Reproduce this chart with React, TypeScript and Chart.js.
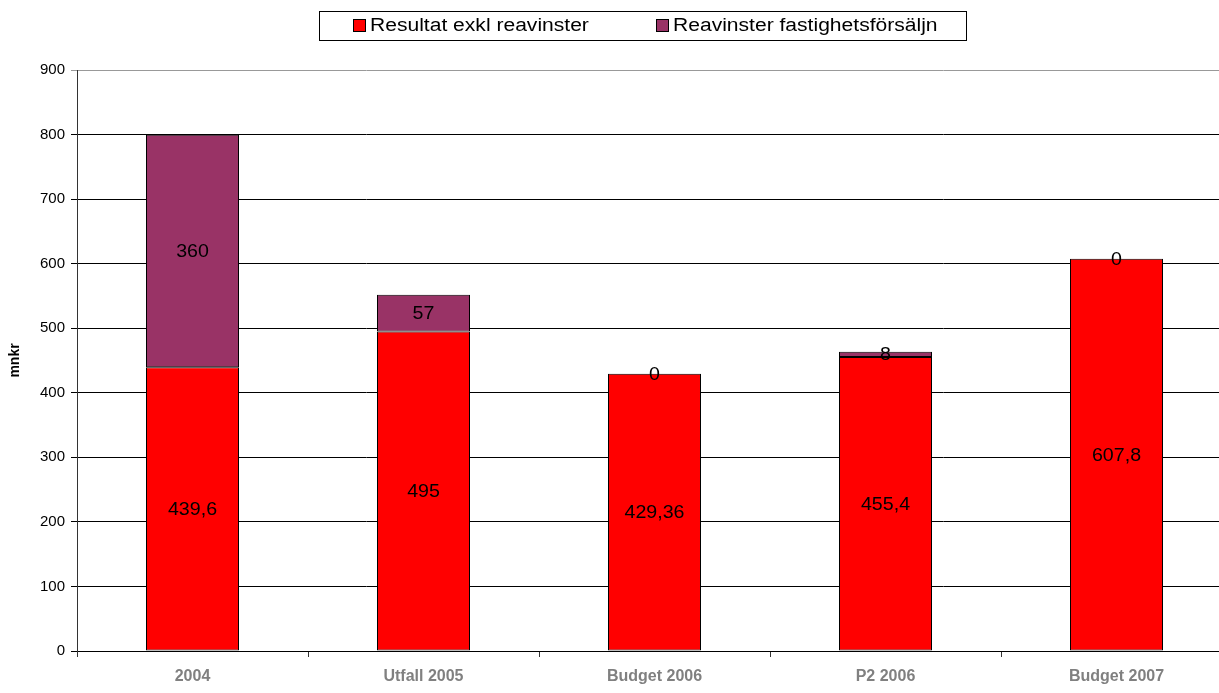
import React, { useEffect, useRef } from 'react';
import { Chart, registerables } from 'chart.js';

Chart.register(...registerables);

// ---- data ----
const categories = ['2004', 'Utfall 2005', 'Budget 2006', 'P2 2006', 'Budget 2007'];
const resultatExkl = [439.6, 495, 429.36, 455.4, 607.8];
const reavinster = [360, 57, 0, 8, 0];
const seriesNames = ['Resultat exkl reavinster', 'Reavinster fastighetsförsäljn'];
const seriesColors = ['#FF0000', '#993366'];
const yMin = 0;
const yMax = 900;
const yStep = 100;
const yAxisTitle = 'mnkr';

const FONT = '"Liberation Sans", Arial, sans-serif';

const fmt = (v: number) => String(v).replace('.', ',');

const legendPlugin = {
  id: 'boxLegend',
  afterDraw(chart: any) {
    const ctx = chart.ctx;
    ctx.save();
    ctx.strokeStyle = '#000';
    ctx.lineWidth = 1;
    ctx.fillStyle = '#fff';
    ctx.fillRect(319.5, 11.5, 647, 29);
    ctx.strokeRect(319.5, 11.5, 647, 29);
    const xs = [353, 656];
    ctx.font = `18px ${FONT}`;
    ctx.textBaseline = 'middle';
    ctx.textAlign = 'left';
    chart.data.datasets.forEach((ds: any, i: number) => {
      const x = xs[i];
      ctx.fillStyle = ds.backgroundColor;
      ctx.fillRect(x + 0.5, 19.5, 12, 12);
      ctx.strokeStyle = '#000';
      ctx.strokeRect(x + 0.5, 19.5, 12, 12);
      ctx.save();
      ctx.translate(x + 17, 26.5);
      ctx.scale(1.17, 1);
      ctx.fillStyle = '#000';
      ctx.fillText(ds.label, 0, 0);
      ctx.restore();
    });
    ctx.restore();
  },
};

const dataLabelPlugin = {
  id: 'dataLabels',
  afterDatasetsDraw(chart: any) {
    const ctx = chart.ctx;
    ctx.save();
    ctx.font = `18px ${FONT}`;
    ctx.textAlign = 'center';
    ctx.textBaseline = 'middle';
    ctx.fillStyle = '#000';
    chart.data.datasets.forEach((ds: any, di: number) => {
      const meta = chart.getDatasetMeta(di);
      meta.data.forEach((el: any, i: number) => {
        const v = ds.data[i];
        const { x, y, base } = el.getProps(['x', 'y', 'base'], true);
        const cy = (y + base) / 2;
        ctx.save();
        ctx.translate(x, cy + 1);
        ctx.scale(1.09, 1);
        ctx.fillText(fmt(v), 0, 0);
        ctx.restore();
      });
    });
    ctx.restore();
  },
};

export default function App() {
  const ref = useRef<HTMLCanvasElement | null>(null);

  useEffect(() => {
    if (!ref.current) return;
    const barOpts = {
      borderColor: '#000',
      borderWidth: 1,
      borderSkipped: false,
      barPercentage: 93 / 231,
      categoryPercentage: 1,
    };
    const chart = new Chart(ref.current, {
      type: 'bar',
      data: {
        labels: categories,
        datasets: [
          { label: seriesNames[0], data: resultatExkl, backgroundColor: seriesColors[0], ...barOpts },
          { label: seriesNames[1], data: reavinster, backgroundColor: seriesColors[1], ...barOpts },
        ],
      },
      options: {
        animation: false,
        responsive: false,
        devicePixelRatio: 1,
        layout: { padding: { left: 0, top: 70, right: 18, bottom: 0 } },
        plugins: {
          legend: { display: false },
          tooltip: { enabled: false },
        },
        scales: {
          x: {
            stacked: true,
            grid: {
              offset: true,
              drawOnChartArea: false,
              drawTicks: true,
              tickLength: 6,
              color: '#333',
            },
            border: { display: true, color: '#000', width: 1 },
            ticks: {
              color: '#808080',
              font: { family: FONT, size: 16, weight: 'bold' },
              padding: 10,
              maxRotation: 0,
              autoSkip: false,
            },
            afterFit: (s: any) => {
              s.height = 42;
            },
          },
          y: {
            stacked: true,
            min: yMin,
            max: yMax,
            ticks: {
              stepSize: yStep,
              color: '#000',
              font: { family: FONT, size: 15 },
              padding: 6,
            },
            grid: {
              color: (c: any) => (c.tick && c.tick.value === yMax ? '#999' : '#000'),
              lineWidth: 1,
              tickLength: 6,
            },
            border: { display: true, color: '#333', width: 1 },
            title: {
              display: true,
              text: yAxisTitle,
              color: '#000',
              font: { family: FONT, size: 14, weight: 'bold' },
              padding: { top: 7, bottom: 0 },
            },
            afterFit: (s: any) => {
              s.width = 77;
            },
          },
        },
      },
      plugins: [dataLabelPlugin, legendPlugin],
    } as any);
    return () => chart.destroy();
  }, []);

  return (
    <div
      style={{
        position: 'fixed',
        left: 0,
        top: 0,
        width: 1219,
        height: 693,
        overflow: 'hidden',
        background: '#fff',
      }}
    >
      <canvas ref={ref} width={1250} height={693} style={{ display: 'block', width: 1250, height: 693 }} />
    </div>
  );
}
